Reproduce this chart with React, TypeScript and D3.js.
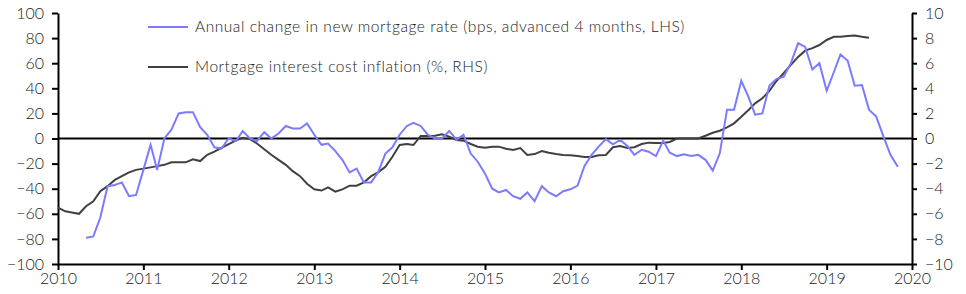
import * as d3 from "d3";
import { useEffect, useRef } from "react";

// monthly series, first observation month for each
const rateStart = new Date(2010, 4, 1);
const rateChange = [
  -79, -78, -63, -38, -37, -35, -46, -45, -25, -5, -25, 0, 7, 20, 21, 21, 9, 3,
  -7, -8, 0, -2, 6, 0, -2, 5, 0, 4, 10, 8, 8, 12, 3, -5, -4, -10, -17, -27, -24,
  -35, -35, -27, -12, -7, 3, 10, 12.5, 10, 3, 0, 0, 6, -1, 3, -12, -18.5, -28,
  -40, -43, -41, -46, -48, -43, -50, -38, -43, -46, -42, -40.5, -37.5, -22, -13,
  -6.5, -0.5, -4.6, -1.2, -6, -13, -9, -10.5, -14, -1.7, -11.3, -14, -12.6, -14,
  -13, -17, -25.6, -11.8, 23, 23, 46, 33, 19, 20, 42, 47.5, 49, 60, 76, 73, 55,
  60, 38, 53, 67, 62, 42, 42.6, 23, 17.5, 1.5, -13, -22.5,
];

const costStart = new Date(2010, 0, 1);
const costInflation = [
  -5.5, -5.8, -5.9, -6.0, -5.4, -5.0, -4.2, -3.8, -3.3, -3.0, -2.7, -2.5, -2.4,
  -2.3, -2.2, -2.1, -1.9, -1.9, -1.9, -1.65, -1.8, -1.3, -1.05, -0.75, -0.45,
  -0.15, 0.05, -0.05, -0.4, -0.85, -1.3, -1.7, -2.1, -2.6, -3.0, -3.6, -4.05,
  -4.15, -3.9, -4.24, -4.05, -3.76, -3.76, -3.5, -3.0, -2.7, -2.25, -1.45, -0.52,
  -0.44, -0.52, 0.2, 0.2, 0.22, 0.33, 0.15, -0.12, -0.17, -0.44, -0.65, -0.73,
  -0.65, -0.65, -0.81, -0.92, -0.76, -1.31, -1.24, -1.0, -1.13, -1.24, -1.31,
  -1.33, -1.39, -1.47, -1.47, -1.34, -1.31, -0.7, -0.6, -0.75, -0.7, -0.44,
  -0.33, -0.36, -0.36, -0.28, 0, 0, 0, 0, 0.22, 0.46, 0.62, 0.89, 1.21, 1.74,
  2.27, 2.8, 3.2, 3.8, 4.6, 5.2, 5.86, 6.5, 7.0, 7.2, 7.45, 7.85, 8.1, 8.1, 8.17,
  8.2, 8.1, 8.03,
];

const leftTicks = [100, 80, 60, 40, 20, 0, -20, -40, -60, -80, -100];
const rightTicks = [10, 8, 6, 4, 2, 0, -2, -4, -6, -8, -10];
const years = [2010, 2011, 2012, 2013, 2014, 2015, 2016, 2017, 2018, 2019, 2020];

const legendItems = [
  { label: "Annual change in new mortgage rate (bps, advanced 4 months, LHS)", color: "#7b7bff" },
  { label: "Mortgage interest cost inflation (%, RHS)", color: "#404040" },
];

const width = 966;
const height = 294;
const margin = { top: 13, bottom: 30, left: 58, right: 54 };
const font = "Lato, 'Open Sans', sans-serif";

const App = () => {
  const chartRef = useRef<SVGSVGElement>(null);

  useEffect(() => {
    const svg = d3.select(chartRef.current);
    svg.selectAll("*").remove();

    const x = d3
      .scaleTime()
      .domain([new Date(years[0], 0, 1), new Date(years[years.length - 1], 0, 1)])
      .range([margin.left, width - margin.right]);
    const yL = d3.scaleLinear().domain([-100, 100]).range([height - margin.bottom, margin.top]);
    const yR = d3.scaleLinear().domain([-10, 10]).range([height - margin.bottom, margin.top]);

    const styleAxis = (g: any) => {
      g.select(".domain").attr("stroke", "#000").attr("stroke-width", 2);
      g.selectAll(".tick line").attr("stroke", "#000").attr("stroke-width", 2);
      g.selectAll(".tick text")
        .attr("fill", "#222")
        .style("font-family", font)
        .style("font-weight", 300)
        .style("font-size", "16px");
    };

    // left axis
    svg.append("g")
      .attr("transform", `translate(${margin.left},0)`)
      .call(d3.axisLeft(yL).tickValues(leftTicks).tickSize(6).tickSizeOuter(0).tickPadding(8))
      .call(styleAxis);

    // right axis
    svg.append("g")
      .attr("transform", `translate(${width - margin.right},0)`)
      .call(d3.axisRight(yR).tickValues(rightTicks).tickSize(5).tickSizeOuter(0).tickPadding(8))
      .call(styleAxis);

    // bottom axis
    svg.append("g")
      .attr("transform", `translate(0,${height - margin.bottom})`)
      .call(
        d3.axisBottom(x)
          .tickValues(years.map((yr) => new Date(yr, 0, 1)))
          .tickFormat(d3.timeFormat("%Y") as any)
          .tickSize(6)
          .tickSizeOuter(0)
          .tickPadding(3)
      )
      .call(styleAxis);

    // zero line
    svg.append("line")
      .attr("x1", margin.left)
      .attr("x2", width - margin.right)
      .attr("y1", yL(0))
      .attr("y2", yL(0))
      .attr("stroke", "#000")
      .attr("stroke-width", 2);

    const rateLine = d3
      .line<number>()
      .x((_, i) => x(d3.timeMonth.offset(rateStart, i)))
      .y((d) => yL(d));
    const costLine = d3
      .line<number>()
      .x((_, i) => x(d3.timeMonth.offset(costStart, i)))
      .y((d) => yR(d));

    svg.append("path")
      .attr("d", costLine(costInflation))
      .attr("fill", "none")
      .attr("stroke", legendItems[1].color)
      .attr("stroke-width", 2);

    svg.append("path")
      .attr("d", rateLine(rateChange))
      .attr("fill", "none")
      .attr("stroke", legendItems[0].color)
      .attr("stroke-width", 2);

    // legend
    const legend = svg.append("g").attr("transform", "translate(148,27)");
    legendItems.forEach((item, i) => {
      const row = legend.append("g").attr("transform", `translate(0,${i * 40})`);
      row.append("line")
        .attr("x1", 0)
        .attr("x2", 40)
        .attr("stroke", item.color)
        .attr("stroke-width", 2);
      row.append("text")
        .attr("x", 47)
        .attr("y", 5)
        .attr("fill", "#222")
        .style("font-family", font)
        .style("font-weight", 300)
        .style("font-size", "15.5px")
        .style("letter-spacing", "0.55px")
        .text(item.label);
    });
  }, []);

  return (
    <svg
      ref={chartRef}
      width={width}
      height={height}
      style={{ position: "absolute", left: 0, top: 0, background: "#fff" }}
    ></svg>
  );
};

export default App;
